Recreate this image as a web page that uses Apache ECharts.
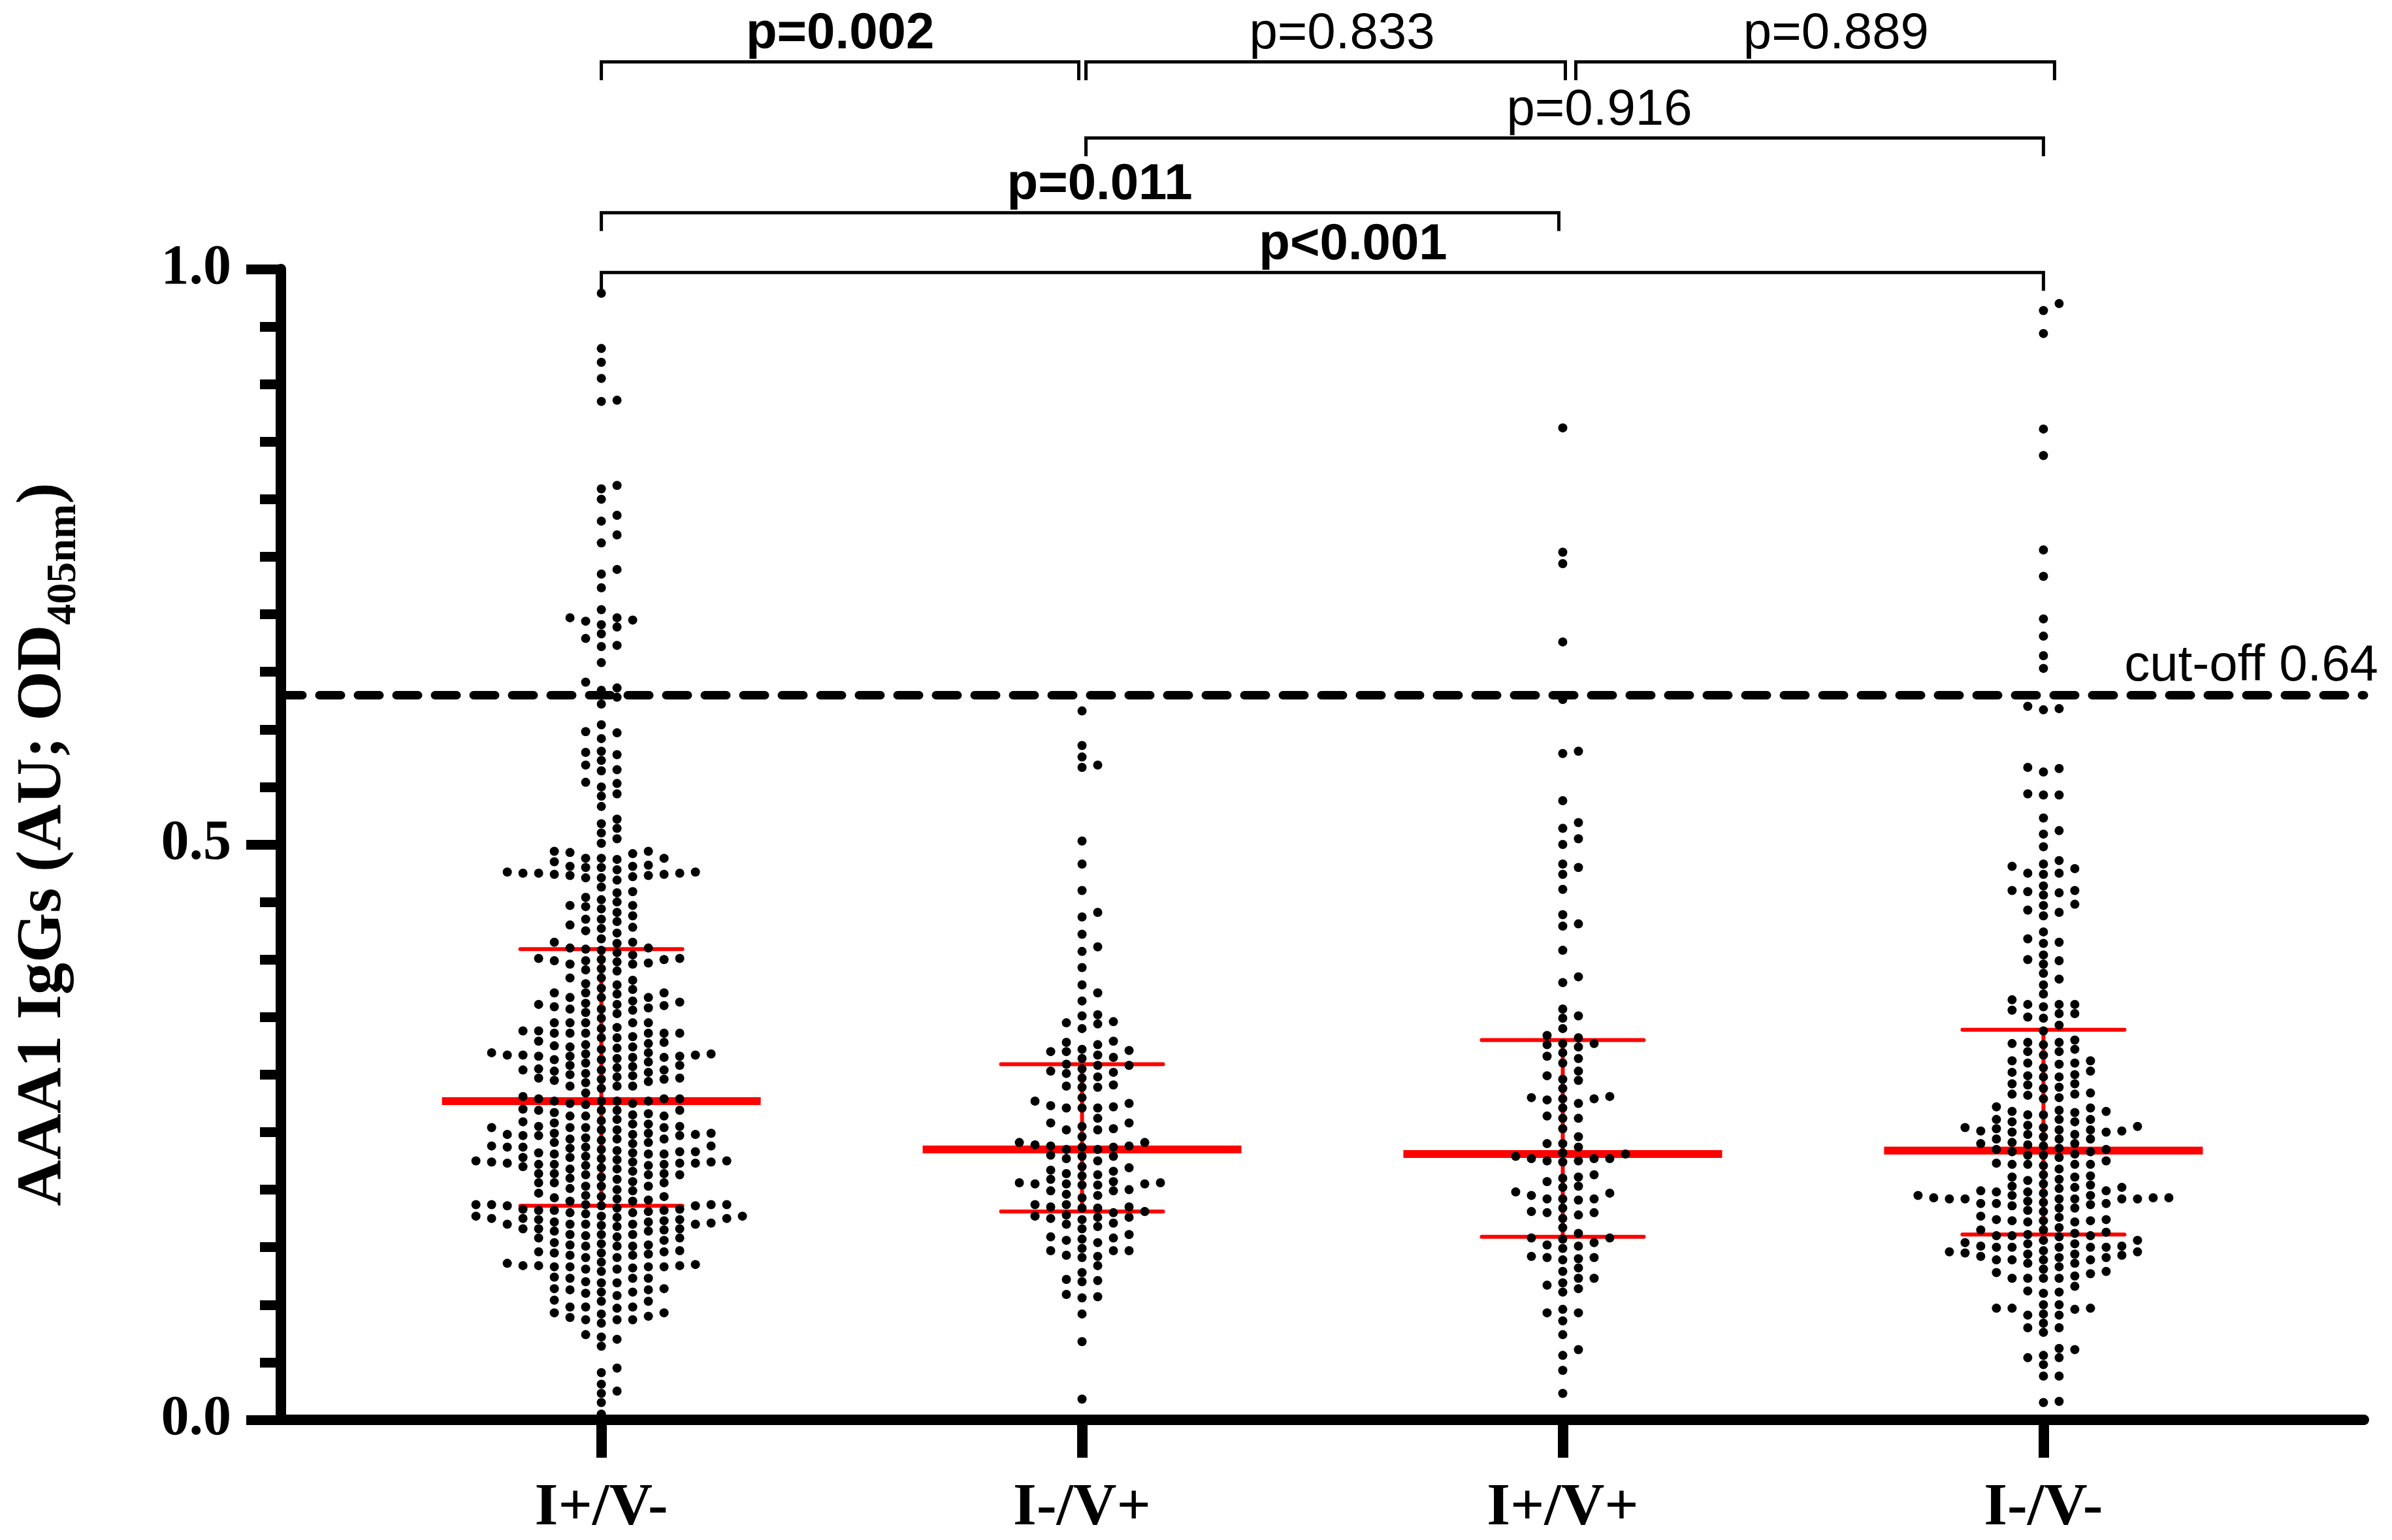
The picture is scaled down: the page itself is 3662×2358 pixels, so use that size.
<!DOCTYPE html>
<html>
<head>
<meta charset="utf-8">
<title>AAA1 IgGs</title>
<script src="https://cdn.jsdelivr.net/npm/echarts@6/dist/echarts.min.js"></script>
<style>
    html, body { margin: 0; padding: 0; background: #fff; }
    #main { width: 3662px; height: 2358px; }
</style>
</head>
<body>
<div id="main"></div>
<script>
// groups on the x axis
var categories = ['I+/V-', 'I-/V+', 'I+/V+', 'I-/V-'];

var valuesIpVm = [
    0.979, 0.931, 0.919, 0.905, 0.886, 0.885, 0.812, 0.809, 0.800, 0.786, 0.781, 0.769, 0.762, 0.739, 0.735, 0.723,
    0.704, 0.697, 0.697, 0.695, 0.694, 0.691, 0.689, 0.683, 0.679, 0.673, 0.672, 0.658, 0.641, 0.636, 0.634, 0.628,
    0.622, 0.604, 0.598, 0.597, 0.592,
    0.578, 0.569, 0.550, 0.485, 0.473, 0.463, 0.454, 0.447, 0.435, 0.415, 0.406, 0.399, 0.392, 0.382, 0.360, 0.353,
    0.336, 0.329, 0.317, 0.310, 0.303, 0.297, 0.290, 0.277,
    0.580, 0.564, 0.554, 0.544, 0.533, 0.518, 0.510, 0.494, 0.474, 0.458, 0.446, 0.435, 0.428, 0.418, 0.410, 0.397,
    0.390, 0.367, 0.357, 0.345, 0.332, 0.324, 0.317, 0.304, 0.296, 0.288, 0.275,
    0.581, 0.573, 0.565, 0.553, 0.542, 0.522, 0.514, 0.505, 0.494, 0.487, 0.476, 0.469, 0.459, 0.450, 0.444, 0.433,
    0.425, 0.410, 0.399, 0.391, 0.384, 0.371, 0.364, 0.357, 0.349, 0.340, 0.332, 0.325, 0.318, 0.301, 0.295, 0.277,
    0.501, 0.488, 0.480, 0.471, 0.447, 0.438, 0.430, 0.423, 0.408, 0.396, 0.379, 0.371, 0.361, 0.345, 0.336, 0.323,
    0.315, 0.305, 0.298, 0.290, 0.277,
    0.493, 0.482, 0.475, 0.409, 0.400, 0.375, 0.336, 0.327, 0.315, 0.308, 0.300, 0.279,
    0.488, 0.475, 0.400, 0.371, 0.354, 0.336, 0.324, 0.317, 0.302, 0.296, 0.284, 0.275,
    0.472, 0.401, 0.361, 0.345, 0.336, 0.322, 0.314, 0.307, 0.279,
    0.476, 0.316, 0.319,
    0.492, 0.478, 0.471, 0.452, 0.441, 0.427, 0.414, 0.404, 0.396, 0.384, 0.374, 0.367, 0.358, 0.345, 0.338, 0.328,
    0.319, 0.306, 0.299, 0.290, 0.277,
    0.488, 0.481, 0.474, 0.415, 0.398, 0.378, 0.370, 0.363, 0.356, 0.341, 0.333, 0.318, 0.311, 0.304, 0.297, 0.274,
    0.480, 0.473, 0.401, 0.367, 0.359, 0.345, 0.338, 0.326, 0.313, 0.304, 0.293, 0.279,
    0.481, 0.475, 0.362, 0.336, 0.316, 0.308, 0.294, 0.281,
    0.316, 0.313,
    0.264, 0.255, 0.245, 0.238, 0.225, 0.218, 0.210, 0.203, 0.194, 0.182, 0.175, 0.166, 0.158, 0.145, 0.134, 0.124,
    0.113, 0.104, 0.097, 0.087, 0.072, 0.064, 0.023, 0.015,
    0.270, 0.252, 0.243, 0.236, 0.224, 0.213, 0.203, 0.190, 0.182, 0.175, 0.166, 0.158, 0.151, 0.134, 0.123, 0.110,
    0.103, 0.093, 0.074, 0.025,
    0.266, 0.259, 0.249, 0.237, 0.231, 0.224, 0.216, 0.209, 0.201, 0.194, 0.187, 0.179, 0.170, 0.164, 0.154, 0.146,
    0.136, 0.123, 0.114, 0.098, 0.092, 0.084, 0.070, 0.031,
    0.269, 0.258, 0.248, 0.232, 0.222, 0.214, 0.207, 0.197, 0.184, 0.177, 0.170, 0.159, 0.151, 0.143, 0.132, 0.123,
    0.108, 0.098, 0.087,
    0.269, 0.261, 0.254, 0.247, 0.238, 0.228, 0.221, 0.213, 0.206, 0.199, 0.186, 0.170, 0.161, 0.153, 0.146, 0.129,
    0.119, 0.111, 0.103, 0.093, 0.087,
    0.269, 0.260, 0.247, 0.240, 0.232, 0.222, 0.214, 0.200, 0.193, 0.186, 0.176, 0.169, 0.161, 0.141, 0.133, 0.120,
    0.113, 0.089,
    0.264, 0.255, 0.248, 0.241, 0.234, 0.223, 0.203, 0.186, 0.177, 0.170, 0.161, 0.147, 0.133, 0.119, 0.098, 0.090,
    0.265, 0.254, 0.244, 0.235, 0.228, 0.221, 0.213, 0.206, 0.187, 0.172, 0.164, 0.156, 0.144, 0.133, 0.114,
    0.269, 0.257, 0.248, 0.241, 0.231, 0.224, 0.206, 0.195, 0.187, 0.177, 0.168, 0.160, 0.152, 0.143, 0.131, 0.111,
    0.267, 0.254, 0.244, 0.237, 0.220, 0.214, 0.187, 0.180, 0.173, 0.165, 0.151, 0.141, 0.133,
    0.264, 0.257, 0.249, 0.233, 0.226, 0.219, 0.211, 0.191, 0.183, 0.174, 0.166, 0.152, 0.145, 0.137, 0.131,
    0.254, 0.247, 0.233, 0.223, 0.190, 0.183, 0.174, 0.134,
    0.244, 0.237, 0.229, 0.222, 0.192, 0.181, 0.135,
    0.249, 0.231, 0.223, 0.182, 0.175,
    0.252, 0.218, 0.187, 0.180, 0.170,
    0.227, 0.172, 0.225, 0.171,
    0.041, 0.045, 0.005
];

var valuesImVp = [
    0.616, 0.586, 0.576, 0.569, 0.567, 0.503, 0.483, 0.460, 0.441, 0.437, 0.422, 0.411, 0.407, 0.393, 0.378, 0.371,
    0.364,
    0.352, 0.345, 0.328, 0.320, 0.305, 0.297, 0.289, 0.275, 0.235, 0.227, 0.219, 0.204, 0.193, 0.187, 0.175, 0.168,
    0.157, 0.142, 0.120, 0.106, 0.092, 0.068, 0.018,
    0.351, 0.340, 0.322, 0.315, 0.308, 0.301, 0.272, 0.255, 0.237, 0.229, 0.213, 0.206, 0.199, 0.185, 0.161, 0.154,
    0.147, 0.134, 0.122, 0.109,
    0.344, 0.329, 0.320, 0.303, 0.289, 0.271, 0.252, 0.241, 0.229, 0.217, 0.205, 0.178, 0.171, 0.158, 0.147, 0.128,
    0.121, 0.107,
    0.317, 0.309, 0.302, 0.290, 0.273, 0.252, 0.235, 0.225, 0.214, 0.204, 0.195, 0.184, 0.177, 0.170, 0.156, 0.149,
    0.141,
    0.346, 0.326, 0.314, 0.298, 0.291, 0.280, 0.271, 0.262, 0.253, 0.238, 0.230, 0.206, 0.199, 0.181, 0.174, 0.166,
    0.159, 0.143,
    0.321, 0.308, 0.277, 0.258, 0.239, 0.220, 0.207, 0.200, 0.187, 0.180,
    0.271, 0.258, 0.246, 0.238, 0.216, 0.209, 0.196, 0.176, 0.147,
    0.237, 0.212, 0.205, 0.184, 0.176,
    0.241, 0.205, 0.185
];

var valuesIpVp = [
    0.862, 0.754, 0.744, 0.676, 0.626, 0.581, 0.579, 0.538, 0.519, 0.514, 0.505, 0.500, 0.483, 0.480, 0.474, 0.461,
    0.439, 0.431, 0.429, 0.408, 0.385, 0.380,
    0.357, 0.349, 0.340, 0.327, 0.319, 0.295, 0.279, 0.271, 0.246, 0.237, 0.227, 0.210, 0.203, 0.192, 0.178, 0.167,
    0.152, 0.132, 0.119, 0.061,
    0.351, 0.334, 0.327, 0.310, 0.296, 0.275, 0.227, 0.207, 0.192, 0.184, 0.175, 0.162, 0.151, 0.123, 0.111, 0.056,
    0.332, 0.324, 0.316, 0.303, 0.281, 0.240, 0.231, 0.224, 0.211, 0.191, 0.158, 0.123, 0.114,
    0.326, 0.314, 0.299, 0.280, 0.240, 0.232, 0.225, 0.213, 0.202, 0.192, 0.181, 0.157, 0.149, 0.129, 0.117,
    0.288, 0.264, 0.253, 0.141, 0.093, 0.086, 0.074, 0.043, 0.023,
    0.262, 0.142, 0.093, 0.262, 0.141, 0.096,
    0.279, 0.225, 0.195, 0.180, 0.158, 0.278, 0.227, 0.180, 0.154,
    0.139, 0.140, 0.197, 0.229, 0.198
];

var valuesImVm = [
    0.970, 0.964, 0.944, 0.861, 0.838, 0.756, 0.733, 0.696, 0.681, 0.664, 0.653, 0.620, 0.618, 0.617, 0.567, 0.566,
    0.563,
    0.543, 0.523, 0.509, 0.498, 0.486, 0.475, 0.464, 0.456, 0.441, 0.424, 0.415, 0.404, 0.396, 0.378, 0.361, 0.349,
    0.338, 0.327, 0.320, 0.310, 0.299, 0.288, 0.279, 0.272, 0.265, 0.254,
    0.544, 0.481, 0.474, 0.458, 0.443, 0.418, 0.400, 0.383, 0.361, 0.353, 0.343, 0.330, 0.322, 0.312, 0.298, 0.289,
    0.280, 0.271, 0.261, 0.251,
    0.543, 0.512, 0.483, 0.475, 0.460, 0.438, 0.414, 0.399, 0.388, 0.370, 0.359, 0.350, 0.326, 0.317, 0.306, 0.298,
    0.284, 0.268, 0.250,
    0.479, 0.460, 0.448, 0.361, 0.353, 0.328, 0.320, 0.310, 0.303, 0.291, 0.282, 0.269, 0.261, 0.250,
    0.459, 0.447, 0.365, 0.356, 0.328, 0.309, 0.300, 0.292, 0.283, 0.268, 0.261, 0.253,
    0.302, 0.292, 0.283, 0.259, 0.252, 0.312, 0.267, 0.252,
    0.265, 0.256, 0.255, 0.254, 0.259, 0.251,
    0.248, 0.195, 0.156, 0.144,
    0.244, 0.230, 0.221, 0.205, 0.198, 0.192, 0.184, 0.172, 0.165, 0.156, 0.146, 0.139,
    0.238, 0.231, 0.222, 0.211, 0.203, 0.193, 0.187, 0.174, 0.160, 0.150, 0.141, 0.125,
    0.244, 0.236, 0.222, 0.195, 0.188, 0.172, 0.160, 0.150, 0.139, 0.133, 0.097,
    0.244, 0.235, 0.228, 0.213, 0.197, 0.189, 0.182, 0.174, 0.163, 0.150, 0.141, 0.129, 0.123, 0.116, 0.100, 0.091,
    0.084, 0.076, 0.056,
    0.240, 0.233, 0.225, 0.212, 0.202, 0.192, 0.184, 0.176, 0.159, 0.151, 0.144, 0.136, 0.123, 0.110, 0.100, 0.092,
    0.080, 0.061, 0.054, 0.048,
    0.240, 0.218, 0.208, 0.198, 0.190, 0.173, 0.161, 0.154, 0.147, 0.139, 0.131, 0.123, 0.112, 0.097, 0.091, 0.080,
    0.062, 0.054,
    0.246, 0.235, 0.223, 0.202, 0.193, 0.186, 0.173, 0.165, 0.150, 0.143, 0.136, 0.128, 0.111, 0.097,
    0.239, 0.230, 0.222, 0.211, 0.204, 0.195, 0.188, 0.177, 0.167, 0.160, 0.150, 0.142, 0.123, 0.096,
    0.248, 0.241, 0.233, 0.222, 0.209, 0.199, 0.188, 0.181, 0.173, 0.162, 0.153, 0.146, 0.139, 0.127,
    0.201, 0.192, 0.153, 0.145, 0.192, 0.199, 0.192, 0.192, 0.151, 0.193,
    0.038, 0.015, 0.038, 0.016
];

var groupValues = [valuesIpVm, valuesImVp, valuesIpVp, valuesImVm];

// median with interquartile range per group
var medians = [0.277, 0.235, 0.231, 0.234];
var quartile1 = [0.186, 0.181, 0.159, 0.161];
var quartile3 = [0.409, 0.309, 0.330, 0.339];

// cut-off line
var cutoffValue = 0.63;
var cutoffLabel = 'cut-off 0.64';

// pairwise comparisons drawn above the plot
var pairFrom = [0, 1, 2, 1, 0, 0];
var pairTo = [1, 2, 3, 3, 2, 3];
var pairLevel = [1.180, 1.180, 1.180, 1.114, 1.049, 0.997];
var pairText = ['p=0.002', 'p=0.833', 'p=0.889', 'p=0.916', 'p=0.011', 'p<0.001'];
var pairBold = [true, false, false, false, true, true];

// small pixel nudges so neighbouring brackets do not touch, and label shifts
var bracketLook = [
    {l: 0, r: -5, dx: 0},
    {l: 6, r: 4, dx: 25},
    {l: 20, r: 17, dx: 32},
    {l: 6, r: 0, dx: 53},
    {l: 0, r: -6, dx: 30},
    {l: 0, r: 0, dx: 47}
];

var serif = 'Liberation Serif';
var sans = 'Liberation Sans';
var red = '#ff0000';

var chart = echarts.init(document.getElementById('main'));

var option = {
    animation: false,
    backgroundColor: '#fff',
    grid: {left: 430, right: 43, top: 412, bottom: 184},
    xAxis: {
        type: 'value',
        min: -2 / 3,
        max: 11 / 3,
        splitLine: {show: false},
        axisLine: {show: true, onZero: false, lineStyle: {color: '#000', width: 16}},
        axisTick: {show: true, customValues: [0, 1, 2, 3], length: 58, lineStyle: {color: '#000', width: 16}},
        axisLabel: {
            customValues: [0, 1, 2, 3],
            formatter: function (v) { return categories[Math.round(v)]; },
            margin: 90,
            color: '#000',
            fontFamily: serif,
            fontWeight: 'bold',
            fontSize: 92
        }
    },
    yAxis: {
        type: 'value',
        min: 0,
        max: 1,
        interval: 0.5,
        splitLine: {show: false},
        axisLine: {show: true, onZero: false, lineStyle: {color: '#000', width: 16}},
        axisTick: {show: true, length: 53, lineStyle: {color: '#000', width: 15}},
        minorTick: {show: true, splitNumber: 10, length: 32, lineStyle: {color: '#000', width: 15}},
        minorSplitLine: {show: false},
        axisLabel: {
            formatter: function (v) { return v.toFixed(1); },
            margin: 76,
            color: '#000',
            fontFamily: serif,
            fontWeight: 'bold',
            fontSize: 86
        },
        name: '{b|AAA1 IgGs (AU; OD}{s|405nm}{b|)}',
        nameLocation: 'middle',
        nameRotate: 90,
        nameGap: 300,
        nameTextStyle: {
            rich: {
                b: {fontFamily: serif, fontWeight: 'bold', fontSize: 98, color: '#000', verticalAlign: 'bottom', padding: [0, 0, 14, 0]},
                s: {fontFamily: serif, fontWeight: 'bold', fontSize: 64, color: '#000', verticalAlign: 'bottom'}
            }
        }
    },
    series: [
        {
            // median and interquartile range
            type: 'custom',
            z: 2,
            silent: true,
            data: categories.map(function (c, i) { return [i, medians[i], quartile1[i], quartile3[i]]; }),
            renderItem: function (params, api) {
                var x = api.value(0);
                var mid = api.coord([x, api.value(1)]);
                var lo = api.coord([x, api.value(2)]);
                var hi = api.coord([x, api.value(3)]);
                var cx = mid[0];
                var thin = {stroke: red, lineWidth: 6, lineCap: 'round'};
                return {
                    type: 'group',
                    children: [
                        {type: 'line', shape: {x1: cx, y1: lo[1], x2: cx, y2: hi[1]}, style: {stroke: red, lineWidth: 6}},
                        {type: 'line', shape: {x1: cx - 124, y1: lo[1], x2: cx + 124, y2: lo[1]}, style: thin},
                        {type: 'line', shape: {x1: cx - 124, y1: hi[1], x2: cx + 124, y2: hi[1]}, style: thin},
                        {type: 'line', shape: {x1: cx - 244, y1: mid[1], x2: cx + 244, y2: mid[1]}, style: {stroke: red, lineWidth: 12}}
                    ]
                };
            }
        },
        {
            // comparison brackets with p values
            type: 'custom',
            clip: false,
            silent: true,
            z: 4,
            data: pairText.map(function (t, i) { return [pairFrom[i], pairTo[i], pairLevel[i]]; }),
            renderItem: function (params, api) {
                var i = params.dataIndex;
                var look = bracketLook[i];
                var a = api.coord([api.value(0), api.value(2)]);
                var b = api.coord([api.value(1), api.value(2)]);
                var x1 = a[0] + look.l;
                var x2 = b[0] + look.r;
                var y = a[1];
                return {
                    type: 'group',
                    children: [
                        {
                            type: 'polyline',
                            shape: {points: [[x1, y + 28], [x1, y], [x2, y], [x2, y + 28]]},
                            style: {stroke: '#000', lineWidth: 5, fill: 'none'}
                        },
                        {
                            type: 'text',
                            style: {
                                text: pairText[i],
                                x: (x1 + x2) / 2 + look.dx,
                                y: y - 3,
                                align: 'center',
                                verticalAlign: 'bottom',
                                fill: '#000',
                                fontFamily: sans,
                                fontWeight: pairBold[i] ? 'bold' : 'normal',
                                fontSize: 78
                            }
                        }
                    ]
                };
            }
        },
        {
            id: 'dots',
            type: 'scatter',
            z: 3,
            silent: true,
            symbol: 'circle',
            symbolSize: 14,
            itemStyle: {color: '#000', opacity: 1},
            data: [],
            markLine: {
                silent: true,
                symbol: ['none', 'none'],
                lineStyle: {color: '#000', width: 13, type: [33, 26], cap: 'round', opacity: 1},
                label: {
                    show: true,
                    position: 'insideEndTop',
                    formatter: cutoffLabel,
                    distance: 4,
                    offset: [26, 0],
                    color: '#000',
                    fontFamily: sans,
                    fontSize: 78
                },
                data: [{yAxis: cutoffValue}]
            }
        }
    ]
};
chart.setOption(option);

// spread the dots of each group into columns so they do not overlap
var dotGap = 13;      // px, smallest vertical distance inside a column
var columnStep = 24;  // px between columns
var unitX = chart.convertToPixel({xAxisIndex: 0}, 1) - chart.convertToPixel({xAxisIndex: 0}, 0);
var dots = [];
groupValues.forEach(function (vals, gi) {
    var placed = [];
    vals.slice().sort(function (a, b) { return a - b; }).forEach(function (v) {
        var py = chart.convertToPixel({yAxisIndex: 0}, v);
        for (var k = 0; k < 80; k++) {
            var col = k % 2 ? (k + 1) / 2 : -k / 2;
            var hit = placed.some(function (p) { return p.col === col && Math.abs(p.y - py) < dotGap; });
            if (!hit) {
                placed.push({col: col, y: py});
                dots.push([gi + col * columnStep / unitX, v]);
                break;
            }
        }
    });
});
chart.setOption({series: [{id: 'dots', data: dots}]});
</script>
</body>
</html>
